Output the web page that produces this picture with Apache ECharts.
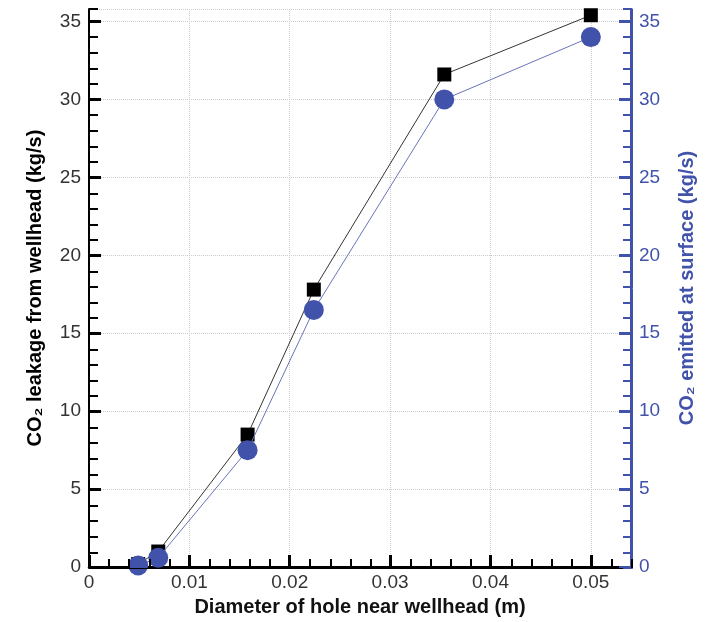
<!DOCTYPE html>
<html>
<head>
<meta charset="utf-8">
<script src="https://cdn.jsdelivr.net/npm/echarts@6/dist/echarts.min.js"></script>
<style>
  html, body { margin: 0; padding: 0; background: #fff; }
  #grafico { width: 705px; height: 622px; }
</style>
</head>
<body>
<div id="grafico"></div>
<script>
// Datos
var diametros = [0.0049, 0.0069, 0.0158, 0.0224, 0.0354, 0.0500];
var fugaPozo = [0.2, 1.0, 8.5, 17.8, 31.6, 35.4];
var emitidoSuperficie = [0.1, 0.6, 7.5, 16.5, 30.0, 34.0];

var azul = '#4152ab';
var fuente = '"Liberation Sans", Arial, sans-serif';
var marco = { left: 89, right: 73, top: 9, bottom: 54 };

function pares(xs, ys) {
    return xs.map(function (x, i) { return [x, ys[i]]; });
}

var grafico = echarts.init(document.getElementById('grafico'));

// Eje Y principal (marcas cada 5)
var ejeY = function (color, posicion, nombre, hueco) {
    return {
        type: 'value',
        gridIndex: 0,
        position: posicion,
        min: 0,
        max: 35.8,
        interval: 5,
        name: nombre,
        nameLocation: 'middle',
        nameRotate: 90,
        nameGap: hueco,
        nameTextStyle: { color: color, fontSize: 20, fontWeight: 'bold', fontFamily: fuente },
        axisLine: { show: true, onZero: false, lineStyle: { color: color, width: 2 } },
        axisTick: { show: true, inside: true, length: 12, lineStyle: { color: color, width: 3 } },
        axisLabel: { color: color === azul ? azul : '#333', fontSize: 19, fontFamily: fuente, margin: 8, showMaxLabel: false },
        splitLine: { show: posicion === 'left', lineStyle: { color: '#ccc', type: 'dotted', width: 1 } }
    };
};

// Eje secundario solo para las marcas menores (su línea cae sobre la del eje principal)
var ejeMenor = function (color, posicion, max, paso) {
    return {
        type: 'value',
        gridIndex: 1,
        position: posicion,
        min: 0,
        max: max,
        interval: paso,
        z: 10,
        axisLine: { show: true, onZero: false, lineStyle: { color: color, width: 1 } },
        axisTick: { show: true, inside: true, length: 9, lineStyle: { color: color, width: 2 } },
        axisLabel: { show: false },
        splitLine: { show: false }
    };
};

var opciones = {
    animation: false,
    grid: [marco, marco],
    xAxis: [{
        type: 'value',
        gridIndex: 0,
        min: 0,
        max: 0.054,
        interval: 0.01,
        name: 'Diameter of hole near wellhead (m)',
        nameLocation: 'middle',
        nameGap: 28,
        nameTextStyle: { color: '#111', fontSize: 20, fontWeight: 'bold', fontFamily: fuente },
        axisLine: { lineStyle: { color: '#000', width: 2 } },
        axisTick: { show: true, inside: true, length: 12, lineStyle: { color: '#000', width: 3 } },
        axisLabel: { color: '#333', fontSize: 19, fontFamily: fuente, margin: 6, showMaxLabel: false },
        splitLine: { show: true, lineStyle: { color: '#ccc', type: 'dotted', width: 1 } }
    }, {
        type: 'value',
        gridIndex: 0,
        position: 'top',
        min: 0,
        max: 0.054,
        axisLine: { show: true, lineStyle: { color: '#000', width: 2.5 } },
        axisTick: { show: false },
        axisLabel: { show: false },
        splitLine: { show: false }
    },
    ejeMenor('#000', 'bottom', 0.054, 0.002)],
    yAxis: [
        ejeY('#000', 'left', 'CO\u2082 leakage from wellhead (kg/s)', 44),
        ejeY(azul, 'right', 'CO\u2082 emitted at surface (kg/s)', 46),
        ejeMenor('#000', 'left', 35.8, 1),
        ejeMenor(azul, 'right', 35.8, 1)
    ],
    series: [{
        name: 'Leakage',
        type: 'line',
        xAxisIndex: 0,
        yAxisIndex: 0,
        data: pares(diametros, fugaPozo),
        symbol: 'rect',
        symbolSize: 14,
        itemStyle: { color: '#000' },
        lineStyle: { color: '#333', width: 1 },
        z: 3
    }, {
        name: 'Emitted',
        type: 'line',
        xAxisIndex: 0,
        yAxisIndex: 1,
        data: pares(diametros, emitidoSuperficie),
        symbol: 'circle',
        symbolSize: 20,
        itemStyle: { color: azul },
        lineStyle: { color: '#6a74b8', width: 1 },
        z: 4
    }]
};

grafico.setOption(opciones);
</script>
</body>
</html>
